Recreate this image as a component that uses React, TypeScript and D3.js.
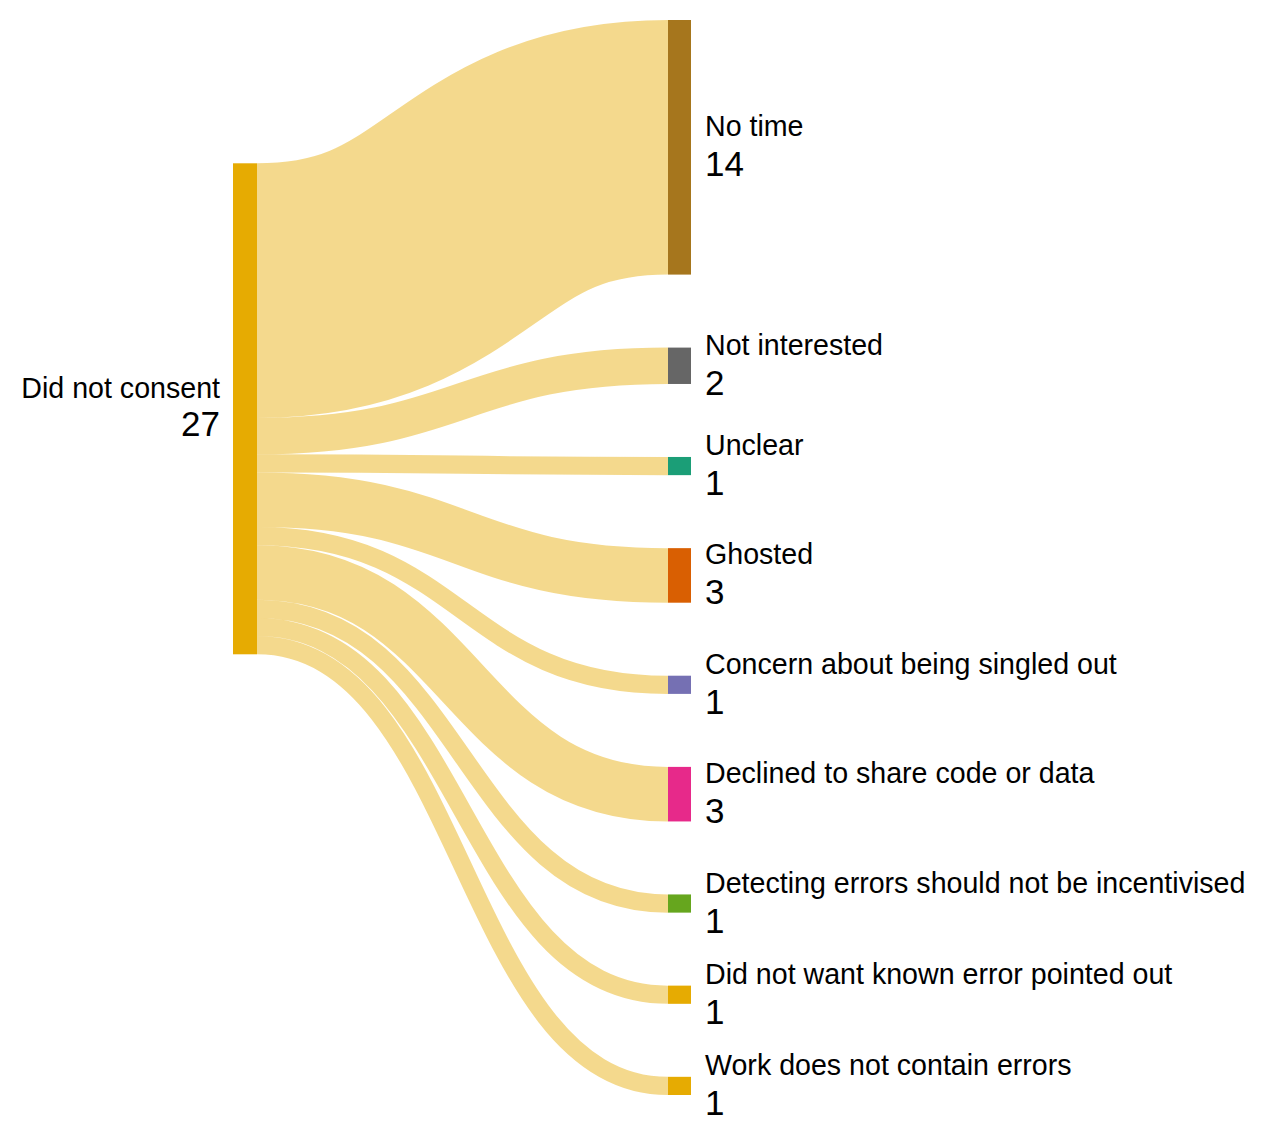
import React from "react";
import * as d3 from "d3";

const sourceName = "Did not consent";
const targetNames = [
  "No time",
  "Not interested",
  "Unclear",
  "Ghosted",
  "Concern about being singled out",
  "Declined to share code or data",
  "Detecting errors should not be incentivised",
  "Did not want known error pointed out",
  "Work does not contain errors",
];
const targetValues = [14, 2, 1, 3, 1, 3, 1, 1, 1];
const targetColors = [
  "#A6761D",
  "#666666",
  "#1B9E77",
  "#D95F02",
  "#7570B3",
  "#E7298A",
  "#66A61E",
  "#E6AB02",
  "#E6AB02",
];
const sourceColor = "#E6AB02";

const W = 1282;
const H = 1144;
const TOP = 20;
const BOTTOM = 1095;
const PAD = 73;
const SRC_X0 = 233;
const SRC_X1 = 257;
const TGT_X0 = 668;
const TGT_X1 = 691;
const FONT = "Helvetica, Arial, 'Liberation Sans', sans-serif";
const NAME_SIZE = 28.6;
const VALUE_SIZE = 35;

export default function App() {
  const total = d3.sum(targetValues);
  const available = BOTTOM - TOP - PAD * (targetValues.length - 1);
  const k = d3.scaleLinear().domain([0, total]).range([0, available]);

  let y = TOP;
  const targets = targetValues.map((v, i) => {
    const y0 = y;
    const y1 = y0 + k(v);
    y = y1 + PAD;
    return { name: targetNames[i], value: v, color: targetColors[i], y0, y1, c: (y0 + y1) / 2 };
  });

  const center = d3.sum(targets, (t) => t.value * t.c) / total;
  const sy0 = center - k(total) / 2;
  const sy1 = center + k(total) / 2;

  let sy = sy0;
  const links = targets.map((t) => {
    const w = k(t.value);
    const ys = sy + w / 2;
    sy += w;
    return { w, ys, yt: t.c };
  });

  const linkGen = d3
    .linkHorizontal<any, [number, number]>()
    .source((d: any) => [SRC_X1, d.ys])
    .target((d: any) => [TGT_X0, d.yt]);

  return (
    <div style={{ position: "absolute", left: 0, top: 0 }}>
      <svg width={W} height={H} style={{ display: "block", background: "#fff" }}>
        <g fill="none" stroke={sourceColor} strokeOpacity={0.45}>
          {links.map((l, i) => (
            <path key={i} d={linkGen(l as any) as string} strokeWidth={Math.max(1, l.w)} />
          ))}
        </g>
        <rect x={SRC_X0} y={sy0} width={SRC_X1 - SRC_X0} height={sy1 - sy0} fill={sourceColor} />
        {targets.map((t, i) => (
          <rect key={i} x={TGT_X0} y={t.y0} width={TGT_X1 - TGT_X0} height={t.y1 - t.y0} fill={t.color} />
        ))}
        <g fontFamily={FONT} fill="#000">
          <text x={SRC_X0 - 13} y={center - 10.5} textAnchor="end" fontSize={NAME_SIZE}>
            {sourceName}
          </text>
          <text x={SRC_X0 - 13} y={center + 27.5} textAnchor="end" fontSize={VALUE_SIZE}>
            {total}
          </text>
          {targets.map((t, i) => (
            <g key={i}>
              <text x={TGT_X1 + 14} y={t.c - 11} fontSize={NAME_SIZE}>
                {t.name}
              </text>
              <text x={TGT_X1 + 14} y={t.c + 29} fontSize={VALUE_SIZE}>
                {t.value}
              </text>
            </g>
          ))}
        </g>
      </svg>
    </div>
  );
}
